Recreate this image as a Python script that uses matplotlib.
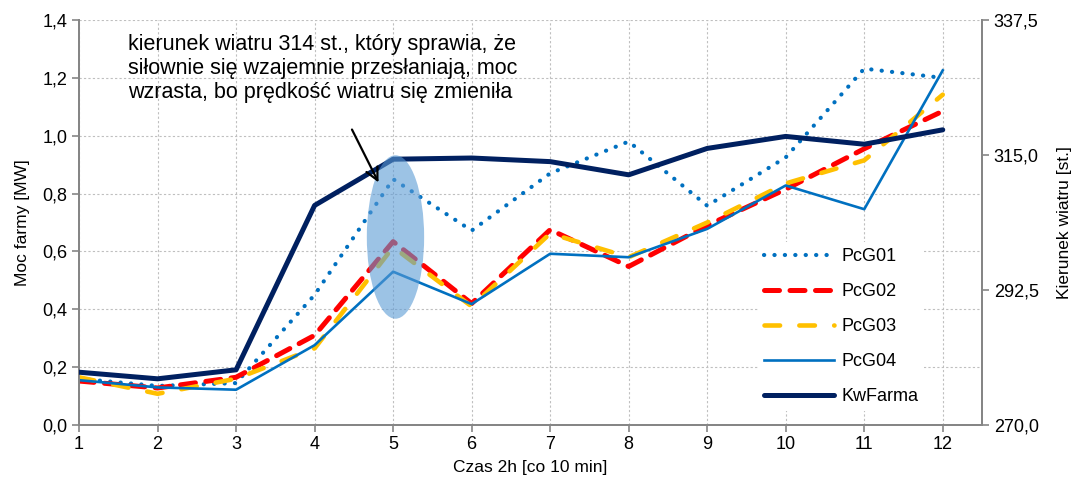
import numpy as np
import matplotlib.pyplot as plt
from matplotlib.patches import Ellipse

plt.rcParams['font.family'] = ['Liberation Sans', 'DejaVu Sans']

# Time steps (2h window, every 10 min)
czas = np.arange(1, 13)

# Power of individual turbines [MW]
pcg01 = [0.16, 0.135, 0.145, 0.45, 0.85, 0.672, 0.87, 0.98, 0.758, 0.925, 1.232, 1.20]
pcg02 = [0.152, 0.128, 0.165, 0.31, 0.634, 0.42, 0.675, 0.548, 0.69, 0.815, 0.955, 1.085]
pcg03 = [0.165, 0.108, 0.16, 0.265, 0.615, 0.41, 0.662, 0.58, 0.70, 0.835, 0.915, 1.142]
pcg04 = [0.155, 0.13, 0.122, 0.276, 0.53, 0.418, 0.592, 0.58, 0.678, 0.828, 0.746, 1.226]

# Wind direction at the farm [deg]
kw_farma = [278.8, 277.7, 279.2, 306.6, 314.3, 314.5, 313.9, 311.7, 316.1, 318.1, 316.8, 319.2]

left_ticks = np.arange(0, 1.41, 0.2)
right_ticks = [270.0, 292.5, 315.0, 337.5]

grey = '#868686'
fs = 13

fig = plt.figure(figsize=(10.77, 4.86), dpi=100)
ax = fig.add_axes([0.0734, 0.1255, 0.8384, 0.8333])
ax2 = ax.twinx()

ax.plot(czas, pcg01, color='#0070C0', lw=3.0, linestyle=(0, (0.05, 2.45)),
        dash_capstyle='round', label='PcG01', zorder=3)
ax.plot(czas, pcg02, color='#FF0000', lw=3.6, linestyle=(0, (3.0, 2.1)),
        dash_capstyle='round', label='PcG02', zorder=3)
ax.plot(czas, pcg03, color='#FFC000', lw=3.3, linestyle=(0, (3.4, 4.2)),
        dash_capstyle='round', label='PcG03', zorder=3)
ax.plot(czas, pcg04, color='#0070C0', lw=1.9, label='PcG04', zorder=3)
ax2.plot(czas, kw_farma, color='#002060', lw=3.6, label='KwFarma',
         solid_capstyle='round', zorder=3)

ax.set_xlim(1, 12.5)
ax.set_ylim(0, 1.4)
ax2.set_ylim(270, 337.5)

ax.set_xticks(czas)
ax.set_yticks(left_ticks)
ax.set_yticklabels([f'{v:.1f}'.replace('.', ',') for v in left_ticks])
ax2.set_yticks(right_ticks)
ax2.set_yticklabels([f'{v:.1f}'.replace('.', ',') for v in right_ticks])

ax.grid(True, color='#BFBFBF', linestyle=(0, (2, 2)), lw=0.8)
ax.set_axisbelow(True)

for a in (ax, ax2):
    a.spines['top'].set_visible(False)
    for s in ('left', 'right', 'bottom'):
        a.spines[s].set_color(grey)
        a.spines[s].set_linewidth(1.4)
    a.tick_params(colors=grey, labelcolor='black', labelsize=fs, length=5, width=1.2)
ax.tick_params(axis='x', pad=3)

ax.set_xlabel('Czas 2h [co 10 min]', fontsize=12.5, labelpad=5)
ax.set_ylabel('Moc farmy [MW]', fontsize=12.5, labelpad=9)
ax2.set_ylabel('Kierunek wiatru [st.]', fontsize=12.5, labelpad=13)

# Highlighted moment when turbines shade each other
ax2.add_patch(Ellipse((5.03, 270 + 0.65 * 67.5 / 1.4), 0.73, 0.565 * 67.5 / 1.4,
                      facecolor='#5B9BD5', alpha=0.6, edgecolor='none', zorder=4))

ax2.annotate('', xy=(4.83, 270 + 0.83 * 67.5 / 1.4), xytext=(4.46, 270 + 1.03 * 67.5 / 1.4),
             arrowprops=dict(arrowstyle='->', color='black', lw=1.6,
                             mutation_scale=22), zorder=5)
ax2.text(1.62, 270 + 1.35 * 67.5 / 1.4,
         'kierunek wiatru 314 st., który sprawia, że\n'
         'siłownie się wzajemnie przesłaniają, moc\n'
         'wzrasta, bo prędkość wiatru się zmieniła',
         fontsize=15.5, va='top', ha='left', linespacing=1.18, zorder=5)

h1, l1 = ax.get_legend_handles_labels()
h2, l2 = ax2.get_legend_handles_labels()
leg = ax2.legend(h1 + h2, l1 + l2, loc='upper left', bbox_to_anchor=(0.743, 0.473),
                 frameon=True, facecolor='white', edgecolor='none', framealpha=1,
                 fontsize=fs, handlelength=3.85, labelspacing=1.0, borderpad=0.3,
                 handletextpad=0.4)
leg.set_zorder(6)

fig.savefig('out.png', dpi=100)
